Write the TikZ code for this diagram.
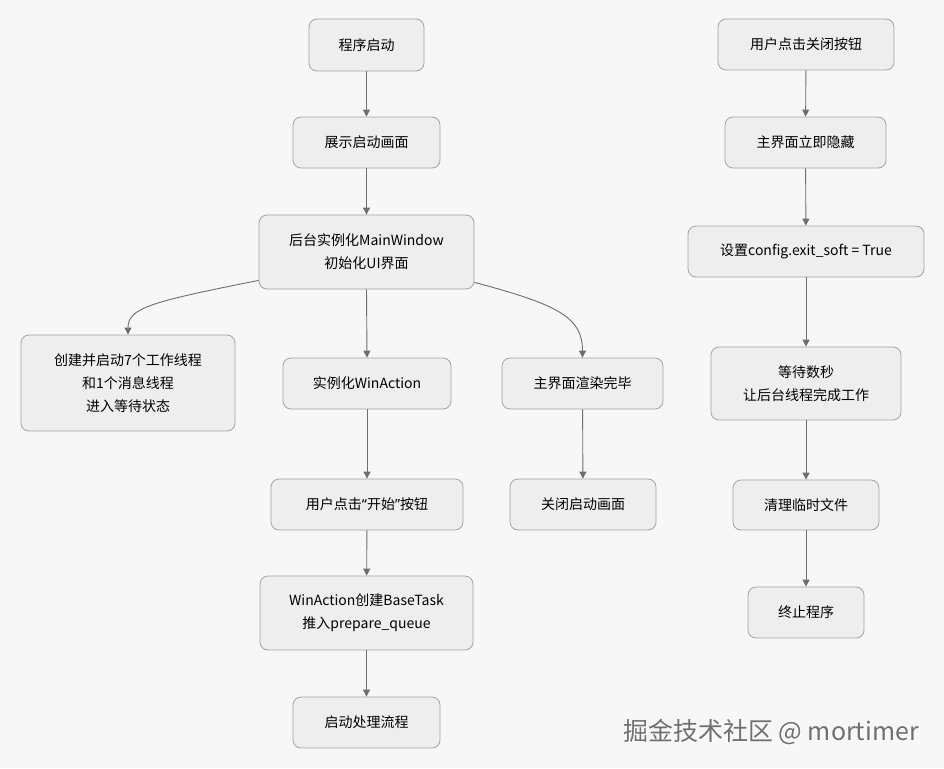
\documentclass[tikz,border=0pt]{standalone}
\usepackage{fontspec}
\setmainfont{Noto Sans CJK SC}
\newfontfamily\qtfont{Noto Sans}
\usetikzlibrary{arrows.meta}
\definecolor{bg}{HTML}{F7F7F7}
\definecolor{boxfill}{HTML}{EEEEEE}
\definecolor{boxline}{HTML}{A3A3A3}
\definecolor{edge}{HTML}{6E6E6E}
\definecolor{wm}{HTML}{6F6F6F}
\begin{document}
\begin{tikzpicture}[x=1pt,y=-1pt,
  box/.style={draw=boxline, fill=boxfill, rounded corners=8pt, line width=0.8pt,
    inner sep=0pt, align=center, font=\fontsize{14}{23}\selectfont, text=black},
  flow/.style={draw=edge, line width=0.9pt, -{Triangle[width=7pt,length=7pt]}}]
\fill[bg] (0,0) rectangle (944,768);
\useasboundingbox (0,0) rectangle (944,768);

% left/middle column
\node[box, minimum width=115pt, minimum height=52pt] (start) at (366.5,45) {程序启动};
\node[box, minimum width=147pt, minimum height=51pt] (splash) at (366.5,142.5) {展示启动画面};
\node[box, minimum width=215pt, minimum height=74pt] (mainwin) at (366.5,252) {后台实例化MainWindow\\初始化UI界面};
\node[box, minimum width=214pt, minimum height=96pt] (threads) at (128,383) {创建并启动7个工作线程\\和1个消息线程\\进入等待状态};
\node[box, minimum width=168pt, minimum height=51pt] (winact) at (367,383.5) {实例化WinAction};
\node[box, minimum width=161pt, minimum height=51pt] (render) at (582.5,383.5) {主界面渲染完毕};
\node[box, minimum width=192pt, minimum height=51pt] (click) at (367,504.5) {用户点击{\qtfont “}开始{\qtfont ”}按钮};
\node[box, minimum width=146pt, minimum height=51pt] (close) at (583,504.5) {关闭启动画面};
\node[box, minimum width=213pt, minimum height=74pt] (task) at (366.5,613) {WinAction创建BaseTask\\推入prepare\_queue};
\node[box, minimum width=147pt, minimum height=51pt] (proc) at (366.5,722.5) {启动处理流程};

% right column
\node[box, minimum width=176pt, minimum height=51pt] (uclose) at (806,44.5) {用户点击关闭按钮};
\node[box, minimum width=161pt, minimum height=51pt] (hide) at (805.5,142.5) {主界面立即隐藏};
\node[box, minimum width=236pt, minimum height=51pt] (cfg) at (806,251.5) {设置config.exit\_soft = True};
\node[box, minimum width=190pt, minimum height=73pt] (wait) at (806,383.5) {等待数秒\\让后台线程完成工作};
\node[box, minimum width=146pt, minimum height=50pt] (clean) at (806,505) {清理临时文件};
\node[box, minimum width=116pt, minimum height=51pt] (term) at (806,612.5) {终止程序};

% edges
\draw[flow] (start) -- (splash);
\draw[flow] (splash) -- (mainwin);
\draw[flow] (mainwin.south) -- (winact.north);
\draw[flow] (mainwin.south west) ++(0,-9) .. controls (150,302) and (128,308) .. (threads.north);
\draw[flow] (mainwin.south east) ++(0,-7) .. controls (560,305) and (582.5,318) .. (render.north);
\draw[flow] (winact) -- (click);
\draw[flow] (render) -- (close);
\draw[flow] (click) -- (task);
\draw[flow] (task) -- (proc);

\draw[flow] (uclose) -- (hide);
\draw[flow] (hide) -- (cfg);
\draw[flow] (cfg) -- (wait);
\draw[flow] (wait) -- (clean);
\draw[flow] (clean) -- (term);

% watermark
\node[font=\fontsize{25}{25}\selectfont, text=white, anchor=east] (wmshadow) at (923.5,733.5) {掘金技术社区 @ mortimer};
\node[font=\fontsize{25}{25}\selectfont, text=wm, anchor=east] (wmark) at (922.5,732.5) {掘金技术社区 @ mortimer};
\end{tikzpicture}
\end{document}
